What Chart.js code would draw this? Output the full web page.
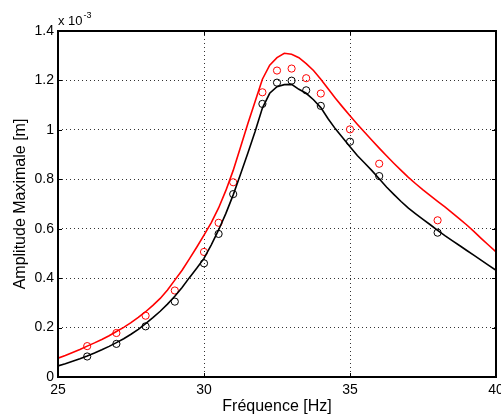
<!DOCTYPE html>
<html><head><meta charset="utf-8">
<script src="https://cdn.jsdelivr.net/npm/chart.js@4/dist/chart.umd.min.js"></script>
<style>html,body{margin:0;padding:0;background:#fff}canvas{display:block}</style>
</head><body>
<canvas id="c" width="501" height="417"></canvas>
<script>
// Frequencies (Hz) at which the simulated curves were read
const lineFreq = [25,25.25,25.5,25.75,26,26.25,26.5,26.75,27,27.25,27.5,27.75,28,28.25,28.5,28.75,29,29.25,29.5,29.75,30,30.25,30.5,30.75,31,31.25,31.5,31.75,32,32.25,32.5,32.75,33,33.25,33.5,33.75,34,34.25,34.5,34.75,35,35.25,35.5,35.75,36,36.25,36.5,36.75,37,37.25,37.5,37.75,38,38.25,38.5,38.75,39,39.25,39.5,39.75,40];
// Amplitudes in units of 1e-3 m
const redCurve = [0.076,0.087,0.099,0.111,0.125,0.138,0.152,0.167,0.184,0.201,0.220,0.241,0.264,0.290,0.318,0.352,0.392,0.432,0.478,0.525,0.574,0.625,0.684,0.755,0.836,0.930,1.025,1.115,1.205,1.262,1.292,1.310,1.306,1.292,1.268,1.240,1.205,1.166,1.128,1.092,1.057,1.023,0.990,0.958,0.926,0.895,0.865,0.836,0.808,0.782,0.757,0.734,0.711,0.688,0.664,0.640,0.615,0.588,0.560,0.533,0.506];
const blackCurve = [0.045,0.054,0.064,0.074,0.085,0.097,0.110,0.124,0.139,0.155,0.173,0.193,0.216,0.240,0.266,0.295,0.327,0.362,0.402,0.440,0.480,0.535,0.595,0.662,0.737,0.820,0.905,0.993,1.088,1.148,1.175,1.183,1.184,1.164,1.148,1.122,1.090,1.045,1.004,0.968,0.932,0.896,0.866,0.835,0.802,0.769,0.739,0.710,0.683,0.660,0.638,0.616,0.593,0.572,0.552,0.532,0.512,0.492,0.472,0.452,0.432];
// Measured points
const pointFreq = [26,27,28,29,30,30.5,31,32,32.5,33,33.5,34,35,36,38];
const redPoints = [0.125,0.178,0.248,0.350,0.506,0.624,0.788,1.152,1.240,1.248,1.209,1.147,1.002,0.863,0.634];
const blackPoints = [0.083,0.134,0.205,0.305,0.460,0.579,0.740,1.105,1.191,1.199,1.160,1.097,0.952,0.813,0.584];
const xTicks = [25,30,35,40];
const yTicks = [0,0.2,0.4,0.6,0.8,1,1.2,1.4];

const FAM = '"Liberation Sans", Arial, Helvetica, sans-serif';
Chart.defaults.font.family = FAM;
Chart.defaults.color = '#000';

const framePlugin = {
  id: 'frame',
  afterDatasetsDraw(chart) {
    const {ctx, chartArea: {left, right, top, bottom}, scales: {x, y}} = chart;
    ctx.save();
    ctx.strokeStyle = '#000';
    ctx.lineWidth = 1;
    ctx.setLineDash([]);
    ctx.beginPath();
    xTicks.forEach(v => {
      const px = Math.round(x.getPixelForValue(v)) + 0.5;
      ctx.moveTo(px, bottom); ctx.lineTo(px, bottom - 4);
      ctx.moveTo(px, top); ctx.lineTo(px, top + 4);
    });
    yTicks.forEach(v => {
      const py = Math.round(y.getPixelForValue(v)) + 0.5;
      ctx.moveTo(left, py); ctx.lineTo(left + 4, py);
      ctx.moveTo(right, py); ctx.lineTo(right - 4, py);
    });
    ctx.stroke();
    ctx.lineWidth = 2;
    ctx.strokeRect(left, top, right - left, bottom - top);
    ctx.fillStyle = '#000';
    ctx.textBaseline = 'alphabetic';
    ctx.font = '13px ' + FAM;
    ctx.fillText('x 10', left, top - 6);
    const w = ctx.measureText('x 10').width;
    ctx.font = '9px ' + FAM;
    ctx.fillText('-3', left + w + 1, top - 13);
    ctx.restore();
  }
};

const toXY = (xs, ys) => xs.map((f, i) => ({x: f, y: ys[i]}));

new Chart(document.getElementById('c'), {
  type: 'scatter',
  data: {
    datasets: [
      {data: toXY(lineFreq, redCurve), showLine: true, borderColor: '#ff0000', borderWidth: 1.6, pointRadius: 0, tension: 0, fill: false},
      {data: toXY(lineFreq, blackCurve), showLine: true, borderColor: '#000000', borderWidth: 1.6, pointRadius: 0, tension: 0, fill: false},
      {data: toXY(pointFreq, redPoints), showLine: false, pointStyle: 'circle', pointRadius: 3.6, borderColor: '#ff0000', backgroundColor: 'rgba(0,0,0,0)', pointBorderWidth: 1, borderWidth: 1},
      {data: toXY(pointFreq, blackPoints), showLine: false, pointStyle: 'circle', pointRadius: 3.6, borderColor: '#000000', backgroundColor: 'rgba(0,0,0,0)', pointBorderWidth: 1, borderWidth: 1}
    ]
  },
  options: {
    responsive: false,
    animation: false,
    devicePixelRatio: 1,
    events: [],
    layout: {padding: {left: 0, right: 3, top: 31, bottom: 0}},
    plugins: {legend: {display: false}, tooltip: {enabled: false}},
    scales: {
      x: {
        type: 'linear', min: 25, max: 40,
        afterBuildTicks: s => { s.ticks = xTicks.map(v => ({value: v})); },
        ticks: {padding: 4.6, color: '#000', font: {size: 14}, maxRotation: 0, autoSkip: false},
        grid: {color: '#333', lineWidth: 1, drawTicks: false},
        border: {display: false, dash: [1, 3]},
        title: {display: true, text: 'Fréquence [Hz]', color: '#000', font: {size: 16}, padding: {top: 0, bottom: 1}},
        afterFit: s => { s.height = 40; s.paddingLeft = 0; s.paddingRight = 0; }
      },
      y: {
        type: 'linear', min: 0, max: 1.4,
        afterBuildTicks: s => { s.ticks = yTicks.map(v => ({value: v})); },
        ticks: {padding: 4, color: '#000', font: {size: 14}, callback: v => String(Number(v.toFixed(1)))},
        grid: {color: '#333', lineWidth: 1, drawTicks: false},
        border: {display: false, dash: [1, 3]},
        title: {display: true, text: 'Amplitude Maximale [m]', color: '#000', font: {size: 16}, padding: {top: 10.9, bottom: 0}},
        afterFit: s => { s.width = 58; s.paddingTop = 0; s.paddingBottom = 0; }
      }
    }
  },
  plugins: [framePlugin]
});
</script>
</body></html>
